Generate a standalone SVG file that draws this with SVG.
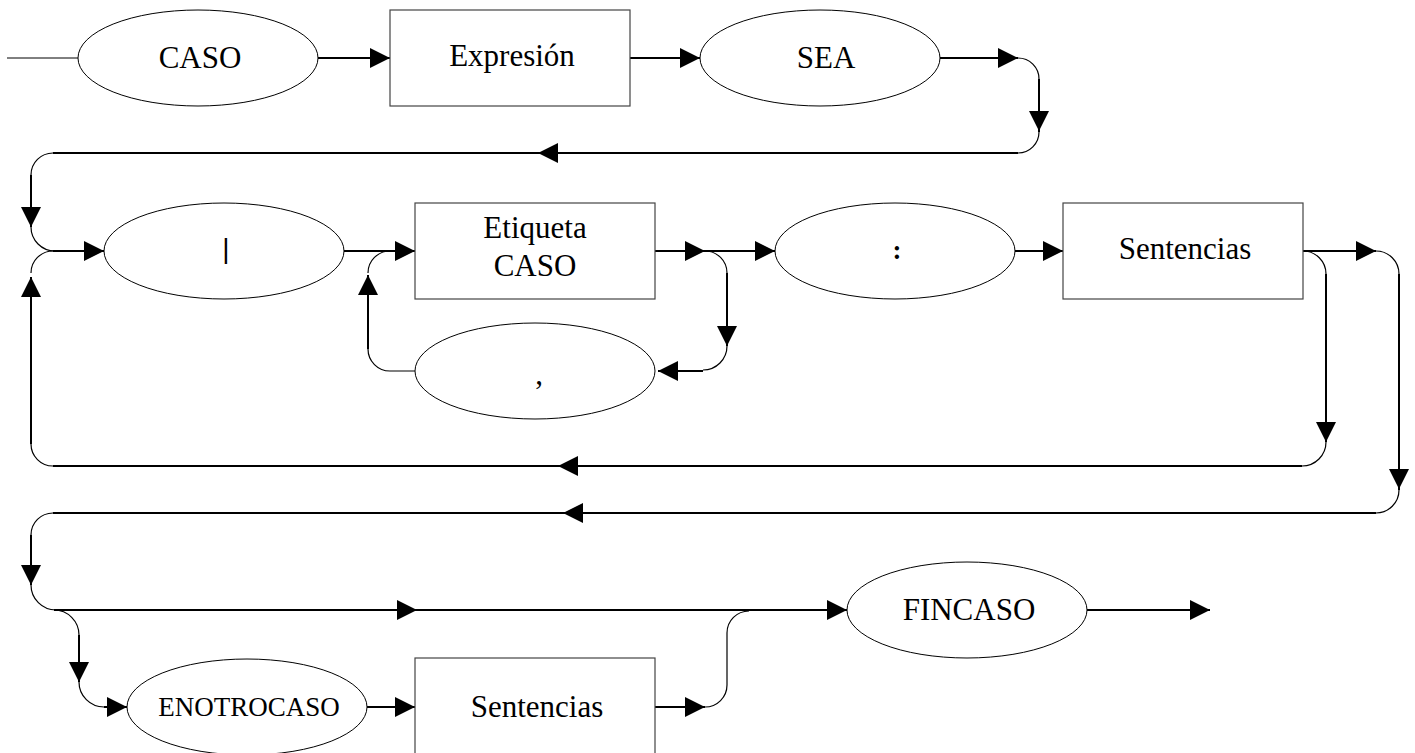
<svg xmlns="http://www.w3.org/2000/svg" xmlns:xlink="http://www.w3.org/1999/xlink" width="1415" height="753" viewBox="0 0 1415 753">
  <style>
    .node { fill: #fff; stroke: #000; stroke-width: 1; }
    .box { fill: #fff; stroke: #444; stroke-width: 1.2; }
    .lbl { font-family: "Liberation Serif", "Times New Roman", serif; font-size: 31px; fill: #000; text-anchor: middle; }
    .small { font-size: 27px; }
    .ln { fill: none; stroke: #000; stroke-width: 2; }
    .cv { fill: none; stroke: #000; stroke-width: 1.2; }
    .thin { fill: none; stroke: #000; stroke-width: 1; }
  </style>
  <defs>
    <!-- arrowhead with its tip at the origin, pointing along +x -->
    <path id="ah" d="M0,0 L-20,-10 L-20,10 Z" fill="#000"/>
  </defs>

  <rect width="1415" height="753" fill="#fff"/>

  <g id="connectors">
    <!-- row 1 -->
    <path class="thin" d="M7,58 H78"/>
    <path class="ln" d="M318,58 H390"/>
    <use xlink:href="#ah" transform="translate(390,58)"/>
    <path class="ln" d="M630,58 H700"/>
    <use xlink:href="#ah" transform="translate(700,58)"/>
    <path class="ln" d="M940,58 H1018"/>
    <use xlink:href="#ah" transform="translate(1018,58)"/>
    <path class="cv" d="M1018,58 A21,21 0 0 1 1039,79"/>
    <path class="ln" d="M1039,79 V132"/>
    <use xlink:href="#ah" transform="translate(1039,131) rotate(90)"/>
    <path class="cv" d="M1039,132 A21,21 0 0 1 1018,153"/>
    <path class="ln" d="M1018,153 H53"/>
    <use xlink:href="#ah" transform="translate(538,153) rotate(180)"/>
    <path class="cv" d="M53,153 A22,22 0 0 0 31,175"/>
    <path class="ln" d="M31,175 V227"/>
    <use xlink:href="#ah" transform="translate(31,227) rotate(90)"/>
    <path class="cv" d="M31,227 A24,24 0 0 0 55,251"/>
    <path class="ln" d="M53,251 H104"/>
    <use xlink:href="#ah" transform="translate(104,251)"/>

    <!-- row 2 -->
    <path class="ln" d="M344,251 H415"/>
    <use xlink:href="#ah" transform="translate(415,251)"/>
    <path class="ln" d="M655,251 H775"/>
    <use xlink:href="#ah" transform="translate(705,251)"/>
    <use xlink:href="#ah" transform="translate(775,251)"/>
    <path class="cv" d="M705,251 A22,22 0 0 1 727,273"/>
    <path class="ln" d="M727,273 V346"/>
    <use xlink:href="#ah" transform="translate(727,346) rotate(90)"/>
    <path class="cv" d="M727,346 A24,24 0 0 1 703,370"/>
    <path class="ln" d="M703,371 H658"/>
    <use xlink:href="#ah" transform="translate(658,371) rotate(180)"/>
    <path class="cv" d="M415,371 H390 A22,22 0 0 1 368,349"/>
    <path class="ln" d="M368,349 V275"/>
    <use xlink:href="#ah" transform="translate(368,275) rotate(-90)"/>
    <path class="cv" d="M368,273 A22,22 0 0 1 390,251"/>
    <path class="ln" d="M1015,251 H1063"/>
    <use xlink:href="#ah" transform="translate(1063,251)"/>

    <!-- outer loop back to row 3 -->
    <path class="ln" d="M1303,251 H1376"/>
    <use xlink:href="#ah" transform="translate(1376,251)"/>
    <path class="cv" d="M1376,251 A23,23 0 0 1 1399,274"/>
    <path class="ln" d="M1399,274 V490"/>
    <use xlink:href="#ah" transform="translate(1399,489) rotate(90)"/>
    <path class="cv" d="M1399,490 A23,23 0 0 1 1376,513"/>
    <path class="ln" d="M1376,513 H53"/>
    <use xlink:href="#ah" transform="translate(563,513) rotate(180)"/>
    <path class="cv" d="M53,513 A22,22 0 0 0 31,535"/>
    <path class="ln" d="M31,535 V585"/>
    <use xlink:href="#ah" transform="translate(31,585) rotate(90)"/>
    <path class="cv" d="M31,585 A25,25 0 0 0 56,610"/>

    <!-- inner loop back to "|" -->
    <path class="cv" d="M1303,251 A23,23 0 0 1 1326,274"/>
    <path class="ln" d="M1326,274 V442"/>
    <use xlink:href="#ah" transform="translate(1326,442) rotate(90)"/>
    <path class="cv" d="M1326,442 A24,24 0 0 1 1302,466"/>
    <path class="ln" d="M1302,466 H53"/>
    <use xlink:href="#ah" transform="translate(558,466) rotate(180)"/>
    <path class="cv" d="M53,466 A22,22 0 0 1 31,444"/>
    <path class="ln" d="M31,444 V277"/>
    <use xlink:href="#ah" transform="translate(31,277) rotate(-90)"/>
    <path class="cv" d="M31,273 A22,22 0 0 1 53,251"/>

    <!-- row 3 -->
    <path class="ln" d="M54,610 H847"/>
    <use xlink:href="#ah" transform="translate(417,610)"/>
    <use xlink:href="#ah" transform="translate(847,610)"/>
    <path class="cv" d="M54,610 A25,25 0 0 1 79,635"/>
    <path class="ln" d="M79,635 V682"/>
    <use xlink:href="#ah" transform="translate(79,682) rotate(90)"/>
    <path class="cv" d="M79,682 A25,25 0 0 0 104,707"/>
    <path class="ln" d="M104,707 H127"/>
    <use xlink:href="#ah" transform="translate(127,707)"/>
    <path class="ln" d="M367,707 H415"/>
    <use xlink:href="#ah" transform="translate(415,707)"/>
    <path class="ln" d="M655,707 H705"/>
    <use xlink:href="#ah" transform="translate(705,707)"/>
    <path class="cv" d="M705,707 A22,22 0 0 0 727,685 V633 A22,22 0 0 1 749,611"/>
    <path class="ln" d="M1087,610 H1210"/>
    <use xlink:href="#ah" transform="translate(1210,610)"/>
  </g>

  <g id="n-caso">
    <ellipse class="node" cx="198" cy="58" rx="120" ry="48"/>
    <text class="lbl" x="200" y="68">CASO</text>
  </g>
  <g id="n-expresion">
    <rect class="box" x="390" y="10" width="240" height="96"/>
    <text class="lbl" x="512" y="66">Expresión</text>
  </g>
  <g id="n-sea">
    <ellipse class="node" cx="820" cy="58" rx="120" ry="48"/>
    <text class="lbl" x="826" y="68">SEA</text>
  </g>
  <g id="n-bar">
    <ellipse class="node" cx="224" cy="251" rx="120" ry="48"/>
    <text class="lbl" x="226" y="258" style="font-family:'Liberation Sans',Arial,sans-serif;font-size:28px">|</text>
  </g>
  <g id="n-etiqueta">
    <rect class="box" x="415" y="203" width="240" height="96"/>
    <text class="lbl" x="535" y="238">Etiqueta</text>
    <text class="lbl" x="535" y="276">CASO</text>
  </g>
  <g id="n-comma">
    <ellipse class="node" cx="535" cy="371" rx="120" ry="48"/>
    <text class="lbl" x="539" y="384">,</text>
  </g>
  <g id="n-colon">
    <ellipse class="node" cx="895" cy="251" rx="120" ry="48"/>
    <text class="lbl" x="897" y="259" style="font-weight:bold;font-size:27px">:</text>
  </g>
  <g id="n-sentencias">
    <rect class="box" x="1063" y="203" width="240" height="96"/>
    <text class="lbl" x="1185" y="259">Sentencias</text>
  </g>
  <g id="n-fincaso">
    <ellipse class="node" cx="967" cy="610" rx="120" ry="48"/>
    <text class="lbl" x="969" y="620">FINCASO</text>
  </g>
  <g id="n-enotrocaso">
    <ellipse class="node" cx="247" cy="707" rx="120" ry="48"/>
    <text class="lbl small" x="249" y="716">ENOTROCASO</text>
  </g>
  <g id="n-sentencias2">
    <rect class="box" x="415" y="658" width="240" height="110"/>
    <text class="lbl" x="537" y="717">Sentencias</text>
  </g>
</svg>
